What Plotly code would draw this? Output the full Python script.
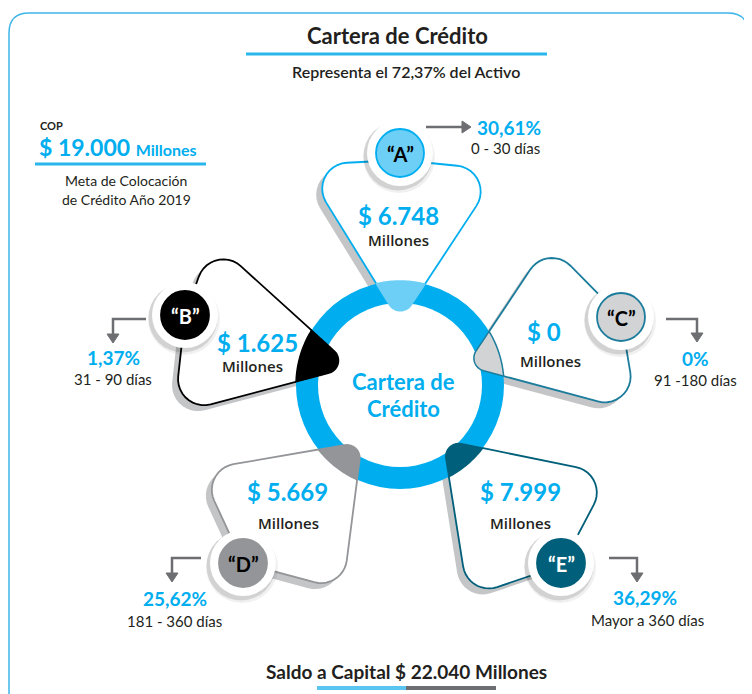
import numpy as np
import plotly.graph_objects as go

# ---------------- data ----------------
categories = ["A", "B", "C", "D", "E"]
amounts = [6748, 1625, 0, 5669, 7999]              # millones COP
percents = [30.61, 1.37, 0.0, 25.62, 36.29]         # % of cartera
day_ranges = ["0 - 30 días", "31 - 90 días", "91 -180 días", "181 - 360 días", "Mayor a 360 días"]
total_capital = 22040
share_of_assets = 72.37
goal_2019 = 19000

# ---------------- styling / layout ----------------
CYAN = "#00AEEF"
DARK = "#231F20"
outline_col = {"A": "#00AEEF", "B": "#000000", "C": "#1C7C9C", "D": "#939598", "E": "#005F7A"}
tip_col = {"A": "#6DCFF6", "B": "#000000", "C": "#D1D3D4", "D": "#939598", "E": "#005F7A"}
badge_fill = {"A": "#6DCFF6", "B": "#000000", "C": "#D1D3D4", "D": "#939598", "E": "#005F7A"}
badge_line = {"A": "#00AEEF", "B": "#000000", "C": "#1C7C9C", "D": "#939598", "E": "#005F7A"}
letter_col = {"A": "#000000", "B": "#FFFFFF", "C": "#000000", "D": "#000000", "E": "#FFFFFF"}

CENTER = np.array([400.0, 385.0])
R_OUT, R_IN = 104.0, 82.0

# petal polygons: tip, corner, badge point, corner
petal_pts = {
    "A": [(400, 322), (303, 165), (400, 160), (500, 170)],
    "B": [(352, 367), (212, 240), (185, 315), (174, 414)],
    "C": [(466, 366), (548, 243), (621, 317), (637, 412)],
    "D": [(362, 442), (200, 470), (243, 563), (343, 590)],
    "E": [(443, 440), (610, 474), (562, 565), (468, 597)],
}
petal_radii = [13, 26, 0, 26]
badge_pos = {"A": (400, 153), "B": (185, 315), "C": (621, 317), "D": (243, 563), "E": (561, 563)}
amount_pos = {"A": (398, 215), "B": (257, 342), "C": (544, 331), "D": (287, 491), "E": (520, 491)}
mill_pos = {"A": (398, 240), "B": (252, 366), "C": (550, 361), "D": (288, 523), "E": (520, 523)}
# arrow polylines (start -> end) and label positions
arrow_pts = {
    "A": [(426, 127), (462, 127)],
    "B": [(146, 319), (113, 319), (113, 334)],
    "C": [(666, 319), (697, 319), (697, 333)],
    "D": [(201, 558), (172, 558), (172, 573)],
    "E": [(609, 558), (637, 558), (637, 573)],
}
pct_pos = {"A": (475, 127), "B": (113, 357), "C": (695, 358), "D": (175, 598), "E": (645, 597)}
pct_anchor = {"A": "left", "B": "center", "C": "center", "D": "center", "E": "center"}
days_pos = {"A": (505, 148), "B": (113, 379), "C": (695, 380), "D": (174, 621), "E": (647, 620)}

# page offset of the plot inside the html body (default body margin)
OFF = 8


def rounded_poly(pts, radii, n=12):
    pts = np.asarray(pts, float)
    out = []
    m = len(pts)
    for i in range(m):
        p0, p1, p2 = pts[i - 1], pts[i], pts[(i + 1) % m]
        r = radii[i]
        if r <= 0:
            out.append(p1)
            continue
        u1 = (p0 - p1) / np.linalg.norm(p0 - p1)
        u2 = (p2 - p1) / np.linalg.norm(p2 - p1)
        th = np.arccos(np.clip(u1 @ u2, -1, 1))
        d = r / np.tan(th / 2)
        a = p1 + u1 * d
        b = p1 + u2 * d
        bis = (u1 + u2) / np.linalg.norm(u1 + u2)
        c = p1 + bis * (r / np.sin(th / 2))
        aa = np.arctan2(a[1] - c[1], a[0] - c[0])
        ab = np.arctan2(b[1] - c[1], b[0] - c[0])
        diff = (ab - aa + np.pi) % (2 * np.pi) - np.pi
        ts = aa + diff * np.linspace(0, 1, n)
        out.extend(c + r * np.column_stack([np.cos(ts), np.sin(ts)]))
    return np.array(out)


def densify(poly, step=0.7):
    res = []
    m = len(poly)
    for i in range(m):
        a = poly[i]
        b = poly[(i + 1) % m]
        L = np.linalg.norm(b - a)
        k = max(1, int(L / step))
        for t in np.arange(k) / k:
            res.append(a + (b - a) * t)
    return np.array(res)


def tip_region(poly, c, R):
    d = densify(poly)
    inside = np.hypot(d[:, 0] - c[0], d[:, 1] - c[1]) < R
    first_out = int(np.argmin(inside))
    d = np.roll(d, -first_out, axis=0)
    inside = np.roll(inside, -first_out)
    idx = np.where(inside)[0]
    chain = d[idx[0]:idx[-1] + 1]
    a_end = np.arctan2(chain[-1, 1] - c[1], chain[-1, 0] - c[0])
    a_start = np.arctan2(chain[0, 1] - c[1], chain[0, 0] - c[0])
    diff = (a_start - a_end + np.pi) % (2 * np.pi) - np.pi
    ts = a_end + diff * np.linspace(0, 1, 40)
    arc = c + R * np.column_stack([np.cos(ts), np.sin(ts)])
    return np.vstack([chain, arc])


def to_path(poly):
    s = "M " + " L ".join(f"{x:.2f},{y:.2f}" for x, y in poly)
    return s + " Z"


def circle(cx, cy, r, fill, line_col=None, lw=0, opacity=1.0):
    return dict(type="circle", xref="x", yref="y", x0=cx - r, x1=cx + r, y0=cy - r, y1=cy + r,
                fillcolor=fill, opacity=opacity,
                line=dict(color=line_col or fill, width=lw))


shapes = []
ann = []

# outer frame
frame = "M 9,720 L 9,33 Q 9,13 29,13 L 728,13 Q 748,13 748,33 L 748,720"
shapes.append(dict(type="path", path=frame, line=dict(color="#3FB6E8", width=1.5)))

# title decorations
shapes.append(dict(type="line", x0=246, x1=547, y0=54, y1=54, line=dict(color="#29B6EC", width=3)))
shapes.append(dict(type="line", x0=35, x1=206, y0=164, y1=164, line=dict(color="#29B6EC", width=3)))
shapes.append(dict(type="line", x0=317, x1=406, y0=688, y1=688, line=dict(color="#5BC5F2", width=4)))
shapes.append(dict(type="line", x0=406, x1=496, y0=688, y1=688, line=dict(color="#6D6E71", width=4)))

polys = {k: rounded_poly(petal_pts[k], petal_radii) for k in categories}

# petal shadows
for k in categories:
    sh = polys[k] + np.array([-6, 6])
    shapes.append(dict(type="path", path=to_path(sh), fillcolor="#C4C5C7", line=dict(width=0)))
# petals
for k in categories:
    shapes.append(dict(type="path", path=to_path(polys[k]), fillcolor="#FFFFFF",
                       line=dict(color=outline_col[k], width=1.8)))

# ring
shapes.append(circle(CENTER[0], CENTER[1], R_OUT, CYAN))
shapes.append(circle(CENTER[0], CENTER[1], R_IN, "#FFFFFF"))

# tips
for k in categories:
    tip = tip_region(polys[k], CENTER, R_OUT)
    shapes.append(dict(type="path", path=to_path(tip), fillcolor=tip_col[k],
                       line=dict(color=outline_col[k] if k != "A" else tip_col[k], width=1.5)))

# badges
for k in categories:
    bx, by = badge_pos[k]
    shapes.append(circle(bx - 1, by + 4, 36, "#000000", opacity=0.06))
    shapes.append(circle(bx - 2, by + 3, 34.5, "#000000", opacity=0.12))
    shapes.append(circle(bx, by, 33, "#FFFFFF"))
    shapes.append(circle(bx, by, 24, badge_fill[k], badge_line[k], 1.8))
    ann.append(dict(x=bx, y=by + 1, text=f"<b>“{k}”</b>", showarrow=False,
                    font=dict(family="Lato, Open Sans, sans-serif", size=20, color=letter_col[k])))

# arrows
for k in categories:
    pts = np.array(arrow_pts[k], float)
    path = "M " + " L ".join(f"{x},{y}" for x, y in pts)
    shapes.append(dict(type="path", path=path, line=dict(color="#6D6E71", width=2.5)))
    end = pts[-1]
    dvec = (pts[-1] - pts[-2]) / np.linalg.norm(pts[-1] - pts[-2])
    nvec = np.array([-dvec[1], dvec[0]])
    tipp = end + dvec * 9
    b1 = end + nvec * 6
    b2 = end - nvec * 6
    shapes.append(dict(type="path", path=to_path([b1, tipp, b2]), fillcolor="#6D6E71",
                       line=dict(color="#6D6E71", width=1)))

# texts for each category
BOLD_FONT = "Lato, Open Sans, sans-serif"
for i, k in enumerate(categories):
    amt = f"{amounts[i]:,}".replace(",", ".")
    ax, ay = amount_pos[k]
    ann.append(dict(x=ax, y=ay, text=f"<b>$ {amt}</b>", showarrow=False,
                    font=dict(family=BOLD_FONT, size=24, color=CYAN)))
    mx, my = mill_pos[k]
    ann.append(dict(x=mx, y=my, text="Millones", showarrow=False,
                    font=dict(family="Open Sans, Lato, sans-serif", size=15, color=DARK, weight=600)))
    pv = percents[i]
    ptxt = (f"{pv:.2f}".replace(".", ",") if pv != 0 else "0") + "%"
    px, py = pct_pos[k]
    ann.append(dict(x=px, y=py, text=f"<b>{ptxt}</b>", showarrow=False, xanchor=pct_anchor[k],
                    font=dict(family=BOLD_FONT, size=19, color=CYAN)))
    dx, dy = days_pos[k]
    ann.append(dict(x=dx, y=dy, text=day_ranges[i], showarrow=False,
                    font=dict(family="Lato, sans-serif", size=15, color=DARK)))

# center text
ann.append(dict(x=403, y=381, text="<b>Cartera de</b>", showarrow=False,
                font=dict(family=BOLD_FONT, size=22, color=CYAN)))
ann.append(dict(x=403, y=408, text="<b>Crédito</b>", showarrow=False,
                font=dict(family=BOLD_FONT, size=22, color=CYAN)))

# titles
ann.append(dict(x=397, y=35, text="<b>Cartera de Crédito</b>", showarrow=False,
                font=dict(family=BOLD_FONT, size=22, color=DARK)))
ann.append(dict(x=406, y=71, text=f"Representa el {share_of_assets:.2f}% del Activo".replace(".", ","),
                showarrow=False, font=dict(family="Lato, sans-serif", size=16, color=DARK, weight=600)))
ann.append(dict(x=38, y=125, text="<b>COP</b>", showarrow=False, xanchor="left",
                font=dict(family=BOLD_FONT, size=11, color=DARK)))
goal_txt = f"{goal_2019:,}".replace(",", ".")
ann.append(dict(x=37, y=147, xanchor="left", showarrow=False,
                text=f"<b>$ {goal_txt} <span style='font-size:16px'>Millones</span></b>",
                font=dict(family=BOLD_FONT, size=23, color=CYAN)))
ann.append(dict(x=126, y=180, text="Meta de Colocación", showarrow=False,
                font=dict(family="Lato, sans-serif", size=14, color=DARK)))
ann.append(dict(x=126, y=199, text="de Crédito Año 2019", showarrow=False,
                font=dict(family="Lato, sans-serif", size=14, color=DARK)))
cap_txt = f"{total_capital:,}".replace(",", ".")
ann.append(dict(x=406, y=671, text=f"<b>Saldo a Capital $ {cap_txt} Millones</b>", showarrow=False,
                font=dict(family=BOLD_FONT, size=19, color=DARK)))

for a in ann:
    a.setdefault("xref", "x")
    a.setdefault("yref", "y")

fig = go.Figure(go.Scatter(x=[], y=[]))
fig.update_layout(
    width=752, height=694, margin=dict(l=0, r=0, t=0, b=0),
    paper_bgcolor="white", plot_bgcolor="white",
    xaxis=dict(range=[OFF, 752 + OFF], visible=False, fixedrange=True),
    yaxis=dict(range=[694 + OFF, OFF], visible=False, fixedrange=True),
    shapes=shapes, annotations=ann, showlegend=False,
)
fig.write_html("out.html")
